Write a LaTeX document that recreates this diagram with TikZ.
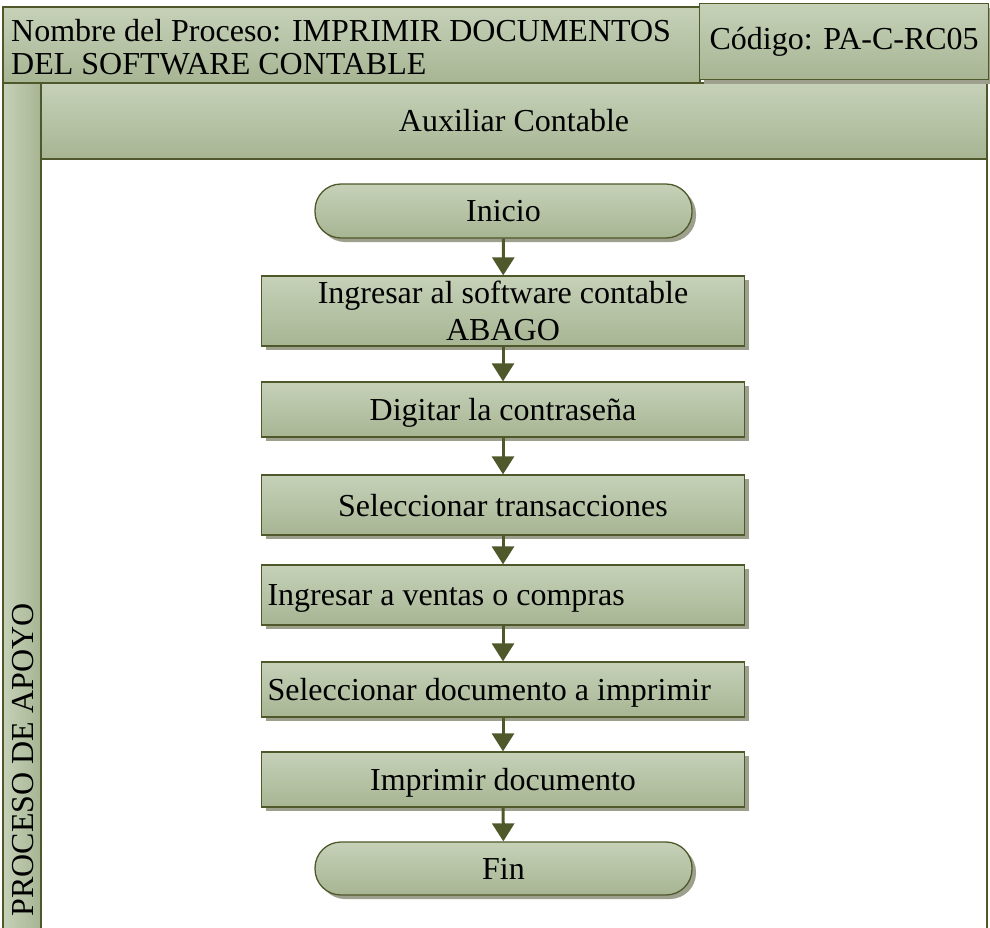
\documentclass[tikz,border=0pt]{standalone}
\usepackage{fontspec}
\setmainfont{Liberation Serif}
\usetikzlibrary{arrows.meta,shadows}

\definecolor{verdeclaro}{RGB}{198,209,184}
\definecolor{verdeoscuro}{RGB}{167,181,147}
\definecolor{borde}{RGB}{78,88,42}
\definecolor{sombra}{RGB}{158,160,142}

\begin{document}
\begin{tikzpicture}[x=1pt, y=-1pt,
    every node/.style={font=\fontsize{32}{37}\selectfont},
    caja/.style={draw=borde, line width=1.3pt, top color=verdeclaro, bottom color=verdeoscuro},
    sombreada/.style={drop shadow={shadow xshift=4pt, shadow yshift=-4pt, fill=sombra, opacity=1}},
    proceso/.style={caja, sombreada, rectangle, minimum height=57pt, text width=471pt,
        inner xsep=6pt, inner ysep=0pt, text depth=0pt, align=flush center},
    terminal/.style={caja, sombreada, rectangle, rounded corners=26pt, minimum width=377pt,
        minimum height=54pt, inner sep=0pt, text depth=0pt},
    flecha/.style={draw=borde, line width=3pt, -{Triangle[width=22pt,length=18pt]}}]
    \useasboundingbox (0,0) rectangle (990,927);
    \clip (0,0) rectangle (990,927);

    % Carril vertical y encabezado del responsable.
    \draw[draw=borde, line width=2pt, left color=verdeclaro, right color=verdeoscuro]
        (3,83) rectangle (41,960);
    \draw[caja, line width=2pt] (41,83) rectangle (987,159);
    \draw[borde, line width=2pt] (987,159) -- (987,960);
    \node (carril) at (514,121) {Auxiliar Contable};
    \node[rotate=90] (apoyo) at (23,760) {PROCESO DE APOYO};

    % Encabezado del proceso.
    \draw[caja, line width=2pt] (3,7) rectangle (700,83);
    \node[anchor=north west, align=flush left, inner sep=0pt, font=\fontsize{32}{33}\selectfont]
        (nombre) at (11,19) {Nombre del Proceso: IMPRIMIR DOCUMENTOS\\DEL SOFTWARE CONTABLE};
    \node[caja, sombreada, anchor=north west, minimum width=289pt, minimum height=76pt, inner sep=0pt]
        (codigo) at (699,3) {Código: PA-C-RC05};

    % Pasos del procedimiento.
    \node[terminal] (inicio) at (503.5,211) {Inicio};
    \node[proceso, minimum height=70pt, text depth={}] (ingresar) at (503,311)
        {Ingresar al software contable\\ABAGO};
    \node[proceso, minimum height=55pt] (digitar) at (503,409.5) {Digitar la contraseña};
    \node[proceso, minimum height=60pt] (transacciones) at (503,505) {Seleccionar transacciones};
    \node[proceso, minimum height=60pt, align=flush left] (ventas) at (503,595) {Ingresar a ventas o compras};
    \node[proceso, minimum height=55pt, align=flush left] (documento) at (503,689.5) {Seleccionar documento a imprimir};
    \node[proceso, minimum height=55pt] (imprimir) at (503,779.5) {Imprimir documento};
    \node[terminal, minimum height=53pt] (fin) at (503.5,868.5) {Fin};

    % Flechas entre pasos.
    \foreach \a/\b in {inicio/ingresar, ingresar/digitar, digitar/transacciones,
        transacciones/ventas, ventas/documento, documento/imprimir, imprimir/fin}
        \draw[flecha] (\a) -- (\b);
\end{tikzpicture}
\end{document}
